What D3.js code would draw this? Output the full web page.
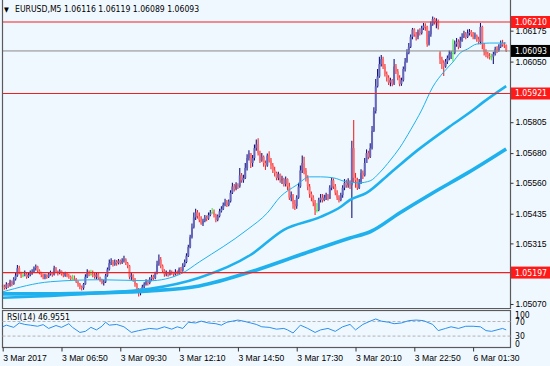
<!DOCTYPE html>
<meta charset="utf-8">
<style>
    body { margin: 0; background: #f0f8ff; }
    svg { display: block; font-family: "DejaVu Sans Condensed", "Liberation Sans", Arial, sans-serif; font-size: 8.6px; }
    .frame { stroke: #5a5a5a; stroke-width: 1.2; fill: none; }
    .axis path { display: none; }
    .axis line { stroke: #333; }
    .axis text { fill: #000; font-family: inherit; font-size: 8.6px; }
</style>
<body>
<svg width="550" height="366"></svg>
</body>
<script src="https://d3js.org/d3.v7.min.js"></script>
<script>
    // prices in 1e-5 above 1.0 (5140 -> 1.05140), one value per M5 bar
    var closes = [5140,5135,5150,5145,5160,5150,5170,5185,5215,5195,5185,5185,5190,5180,5188,5195,5200,5215,5222,5205,
        5195,5188,5178,5185,5180,5190,5195,5188,5215,5200,5195,5205,5190,5185,5195,5185,5180,5172,5172,5170,
        5160,5150,5140,5135,5150,5180,5195,5190,5190,5185,5180,5190,5175,5165,5155,5160,5185,5210,5235,5240,
        5230,5240,5235,5245,5238,5245,5250,5235,5225,5180,5185,5170,5150,5130,5115,5125,5140,5150,5160,5155,
        5170,5180,5175,5195,5230,5250,5225,5205,5190,5195,5188,5200,5195,5190,5200,5195,5210,5205,5225,5240,
        5265,5300,5340,5380,5420,5440,5425,5410,5395,5405,5420,5415,5430,5440,5440,5430,5410,5425,5445,5455,
        5470,5480,5470,5485,5520,5545,5535,5550,5545,5590,5570,5580,5620,5660,5680,5640,5660,5700,5715,5680,
        5650,5665,5640,5630,5670,5650,5630,5610,5600,5580,5595,5570,5575,5555,5575,5545,5500,5510,5475,5465,
        5500,5545,5610,5640,5610,5580,5545,5515,5500,5480,5450,5450,5490,5500,5490,5500,5510,5495,5540,5570,
        5545,5520,5500,5490,5510,5540,5560,5550,5565,5550,5700,5580,5570,5540,5560,5600,5590,5640,5680,5665,
        5700,5770,5850,5950,5990,6040,6060,6030,6000,5985,5965,5975,5960,6030,6010,5985,5960,5975,6020,6050,
        6085,6110,6150,6180,6160,6150,6170,6165,6185,6195,6190,6120,6160,6200,6222,6210,6215,6195,6060,6045,
        6030,6050,6065,6080,6085,6085,6120,6130,6110,6135,6150,6160,6150,6165,6170,6160,6150,6155,6140,6130,
        6190,6120,6090,6080,6072,6070,6070,6080,6100,6095,6110,6125,6118,6116,6093];
    var highs = [5150,5148,5158,5155,5168,5165,5178,5195,5228,5225,5200,5200,5205,5195,5198,5205,5210,5222,5230,5225,
        5210,5200,5192,5192,5190,5198,5205,5200,5225,5220,5205,5210,5205,5198,5200,5198,5192,5185,5188,5185,
        5175,5165,5155,5145,5155,5190,5210,5205,5208,5205,5195,5198,5195,5180,5172,5168,5192,5218,5250,5255,
        5248,5250,5248,5252,5250,5255,5265,5255,5240,5228,5195,5190,5175,5155,5135,5132,5148,5158,5170,5168,
        5178,5188,5188,5200,5245,5270,5260,5230,5210,5205,5200,5208,5205,5200,5210,5205,5218,5220,5235,5250,
        5275,5310,5350,5395,5440,5455,5450,5440,5425,5415,5430,5428,5440,5450,5458,5452,5435,5432,5455,5465,
        5480,5495,5490,5492,5530,5560,5555,5562,5558,5620,5600,5592,5640,5675,5692,5680,5672,5715,5735,5740,
        5690,5680,5670,5650,5678,5688,5660,5640,5625,5605,5605,5598,5588,5580,5585,5578,5560,5525,5515,5490,
        5510,5560,5630,5670,5665,5620,5590,5555,5525,5510,5490,5478,5500,5515,5515,5512,5520,5515,5550,5580,
        5578,5555,5530,5510,5520,5550,5575,5572,5578,5570,5730,5814,5600,5580,5575,5615,5610,5660,5695,5690,
        5720,5790,5865,5980,6020,6070,6077,6070,6040,6010,5995,5985,5980,6060,6040,6020,5995,5985,6030,6065,
        6100,6125,6160,6186,6185,6170,6180,6185,6195,6206,6205,6195,6175,6212,6232,6228,6225,6220,6092,6070,
        6055,6060,6075,6095,6092,6140,6135,6145,6140,6150,6165,6175,6170,6180,6182,6178,6170,6168,6160,6150,
        6206,6195,6125,6100,6090,6085,6082,6090,6110,6112,6120,6135,6138,6128,6119];
    var lows = [5125,5128,5130,5135,5140,5142,5148,5165,5180,5190,5175,5178,5182,5172,5175,5182,5188,5195,5205,5198,
        5190,5178,5170,5170,5172,5175,5185,5180,5185,5195,5185,5190,5185,5178,5180,5178,5172,5165,5168,5165,
        5155,5140,5130,5125,5128,5148,5175,5182,5185,5178,5172,5170,5168,5160,5150,5145,5155,5180,5205,5228,
        5222,5225,5225,5230,5230,5232,5238,5228,5215,5170,5165,5160,5140,5120,5100,5105,5118,5135,5145,5145,
        5150,5162,5165,5170,5190,5225,5215,5195,5180,5182,5180,5185,5188,5180,5185,5188,5190,5198,5200,5220,
        5235,5260,5295,5335,5375,5410,5415,5400,5390,5385,5400,5405,5410,5425,5435,5420,5400,5405,5420,5440,
        5450,5465,5462,5465,5480,5515,5525,5530,5535,5540,5560,5560,5575,5610,5650,5620,5625,5650,5690,5670,
        5640,5645,5625,5612,5625,5642,5615,5600,5585,5570,5570,5560,5555,5545,5545,5530,5490,5485,5455,5450,
        5455,5495,5540,5600,5595,5565,5530,5500,5485,5465,5430,5440,5445,5480,5480,5485,5490,5488,5495,5530,
        5535,5510,5490,5480,5485,5500,5530,5540,5540,5535,5418,5560,5540,5531,5535,5555,5575,5585,5640,5655,
        5660,5695,5765,5840,5945,5985,6030,6020,5990,5970,5955,5950,5950,5955,6000,5975,5950,5952,5970,6010,
        6045,6080,6105,6140,6150,6135,6140,6155,6160,6178,6175,6110,6115,6150,6195,6200,6185,6180,6040,6020,
        5992,6025,6040,6055,6060,6050,6080,6110,6100,6105,6130,6145,6140,6145,6155,6150,6140,6140,6130,6120,
        6120,6100,6075,6068,6062,6058,6055,6040,6075,6085,6090,6105,6110,6105,6089];
    var firstOpen = 5145;
    var gapBar = 238, gapOpen = 6085;   // Monday open after the weekend

    // moving averages, read as [bar, value]
    var maFast = [[0,5119],[26,5160],[53,5168],[80,5164],[97,5192],[107,5240],[133,5370],[144,5438],[151,5503],
        [160,5551],[167,5584],[173,5584],[180,5580],[187,5564],[194,5560],[200,5568],[205,5600],[211,5652],
        [216,5701],[222,5774],[228,5854],[234,5947],[240,6008],[245,6048],[249,6085],[253,6101],[258,6121],
        [265,6125],[274,6125]];
    var maMid = [[0,5095],[26,5103],[53,5115],[80,5131],[107,5176],[135,5269],[153,5370],[173,5422],[184,5463],
        [189,5491],[198,5519],[211,5600],[226,5693],[243,5786],[256,5854],[261,5883],[274,5951]];
    var maSlow = [[0,5111],[26,5111],[53,5115],[80,5123],[107,5143],[135,5200],[162,5269],[189,5337],[200,5362],
        [216,5438],[234,5519],[253,5600],[274,5697]];

    var rsi = [[0,55.5],[2,60],[6,54],[9,66],[12,62],[15,60],[19,57],[22,61.5],[25,51],[29,59],[32,54],[36,64],
        [38,54],[42,40],[45,43],[48,54],[51,47],[54,57],[56,68],[58,60],[62,62],[66,55.5],[70,40],[74,45],
        [76,47],[80,51],[84,49],[88,55.5],[92,49],[95,55.5],[98,51],[101,68],[105,66],[108,71],[112,66],
        [116,64],[119,60],[122,68],[125,71],[128,74],[131,71],[135,66],[138,62],[141,55.5],[145,54],[149,49],
        [153,51],[155,47],[158,38.5],[162,60],[166,51],[170,40],[173,47],[177,51],[181,43],[185,55.5],
        [189,62],[192,47],[196,62],[200,71],[203,77],[206,71],[210,68],[213,64],[217,66],[221,72.5],[225,74],
        [229,72.5],[232,66],[234,62],[237,45],[241,51],[244,55.5],[248,51],[252,57],[256,57],[260,55.5],
        [263,45],[266,43],[269,47],[272,51],[274,47]];

    var priceTicks = [1.06175, 1.06050, 1.05805, 1.05680, 1.05560, 1.05435, 1.05315, 1.05070];
    var redLevels = [1.06210, 1.05921, 1.05197];
    var lastPrice = 1.06093;
    var timeTickBars = [0, 32, 64, 96, 128, 160, 192, 224, 256];
    var timeLabels = ["3 Mar 2017", "3 Mar 06:50", "3 Mar 09:30", "3 Mar 12:10", "3 Mar 14:50",
        "3 Mar 17:30", "3 Mar 20:10", "3 Mar 22:50", "6 Mar 01:30"];
    var rsiTicks = [100, 70, 30, 0];
    var title = "EURUSD,M5  1.06116 1.06119 1.06089 1.06093";
    var rsiTitle = "RSI(14) 46.9551";

    var toPrice = function (v) { return 1 + v / 100000; };

    var bars = closes.map(function (c, i) {
        var o = i === 0 ? firstOpen : (i === gapBar ? gapOpen : closes[i - 1]);
        return {i: i, o: toPrice(o), h: toPrice(highs[i]), l: toPrice(lows[i]), c: toPrice(c)};
    });

    var left = 2.5, right = 510.5, mainBottom = 308.5, rsiTop = 310.5, rsiBottom = 347.5;

    var x = d3.scaleLinear().domain([0, 274]).range([2.7, 506.2]);
    var y = d3.scaleLinear().domain([1.050538, 1.062909]).range([308, 2]);
    var yr = d3.scaleLinear().domain([0, 100]).range([347, 310.6]);

    var svg = d3.select("svg");

    // candles
    var candle = svg.append("g").attr("class", "candles")
        .selectAll("g").data(bars).enter().append("g");

    function wickColor(d) { return d.c > d.o ? "#14147e" : (d.c < d.o ? "#ee2a2a" : "#44ee44"); }
    function bodyColor(d) { return d.c > d.o ? "#6666bb" : (d.c < d.o ? "#ff7070" : "#44ee44"); }

    candle.append("line")
        .attr("x1", function (d) { return x(d.i); })
        .attr("x2", function (d) { return x(d.i); })
        .attr("y1", function (d) { return y(d.h); })
        .attr("y2", function (d) { return y(d.l); })
        .style("stroke", wickColor)
        .style("stroke-width", 1.1);

    candle.append("rect")
        .attr("x", function (d) { return x(d.i) - 1; })
        .attr("width", 2)
        .attr("y", function (d) { return y(Math.max(d.o, d.c)); })
        .attr("height", function (d) { return Math.max(0.8, Math.abs(y(d.o) - y(d.c))); })
        .style("fill", bodyColor);

    // moving averages
    var maLine = d3.line()
        .x(function (d) { return x(d[0]); })
        .y(function (d) { return y(toPrice(d[1])); })
        .curve(d3.curveMonotoneX);

    [[maSlow, 3.6], [maMid, 2.6], [maFast, 1]].forEach(function (m) {
        svg.append("path")
            .datum(m[0])
            .attr("d", maLine)
            .style("fill", "none")
            .style("stroke", "#1fb1ee")
            .style("stroke-width", m[1]);
    });

    // horizontal levels
    svg.append("line")
        .attr("x1", left).attr("x2", right)
        .attr("y1", y(lastPrice)).attr("y2", y(lastPrice))
        .style("stroke", "#8a8a8a").style("stroke-width", 1);

    svg.selectAll(".level").data(redLevels).enter().append("line")
        .attr("class", "level")
        .attr("x1", left).attr("x2", right)
        .attr("y1", function (d) { return y(d); })
        .attr("y2", function (d) { return y(d); })
        .style("stroke", "#f02020").style("stroke-width", 1.2);

    // frames
    svg.append("path").attr("class", "frame")
        .attr("d", "M" + left + ",0V" + mainBottom + "H" + right + "V0");
    svg.append("rect").attr("class", "frame")
        .attr("x", left).attr("y", rsiTop)
        .attr("width", right - left).attr("height", rsiBottom - rsiTop);

    // price axis
    svg.append("g").attr("class", "axis")
        .attr("transform", "translate(" + right + ",0)")
        .call(d3.axisRight(y).tickValues(priceTicks).tickSize(3).tickPadding(2)
            .tickFormat(d3.format(".5f")));

    function priceBox(value, fill) {
        var g = svg.append("g").attr("transform", "translate(511," + y(value) + ")");
        g.append("rect").attr("x", 0).attr("y", -6).attr("width", 39).attr("height", 12).style("fill", fill);
        g.append("text").attr("x", 4).attr("dy", "0.34em").style("fill", "#fff").text(d3.format(".5f")(value));
    }
    redLevels.forEach(function (v) { priceBox(v, "#ff1a1a"); });
    priceBox(lastPrice, "#000");

    // title
    svg.append("text").attr("x", 4).attr("y", 12).style("font-size", "7px").text("\u25BC");
    svg.append("text").attr("x", 15).attr("y", 12).text(title);

    // RSI panel
    [70, 30].forEach(function (v) {
        svg.append("line")
            .attr("x1", left).attr("x2", right)
            .attr("y1", yr(v)).attr("y2", yr(v))
            .style("stroke", "#b4b4b4").style("stroke-dasharray", "3,2");
    });

    svg.append("path")
        .datum(rsi)
        .attr("d", d3.line()
            .x(function (d) { return x(d[0]); })
            .y(function (d) { return yr(d[1]); }))
        .style("fill", "none")
        .style("stroke", "#2a8ff0")
        .style("stroke-width", 1);

    svg.append("text").attr("x", 7).attr("y", 320).text(rsiTitle);

    svg.append("g").attr("class", "axis rsi-axis")
        .selectAll("text").data(rsiTicks).enter().append("text")
        .attr("x", 515)
        .attr("y", function (d) {
            return Math.min(Math.max(yr(d) + 3, rsiTop + 7), rsiBottom - 1);
        })
        .text(function (d) { return d; });

    // time axis
    svg.append("g").attr("class", "axis")
        .attr("transform", "translate(0," + rsiBottom + ")")
        .call(d3.axisBottom(x).tickValues(timeTickBars).tickSize(4).tickPadding(3)
            .tickFormat(function (d, i) { return timeLabels[i]; }))
        .selectAll("text").style("text-anchor", "start");
</script>
</html>
